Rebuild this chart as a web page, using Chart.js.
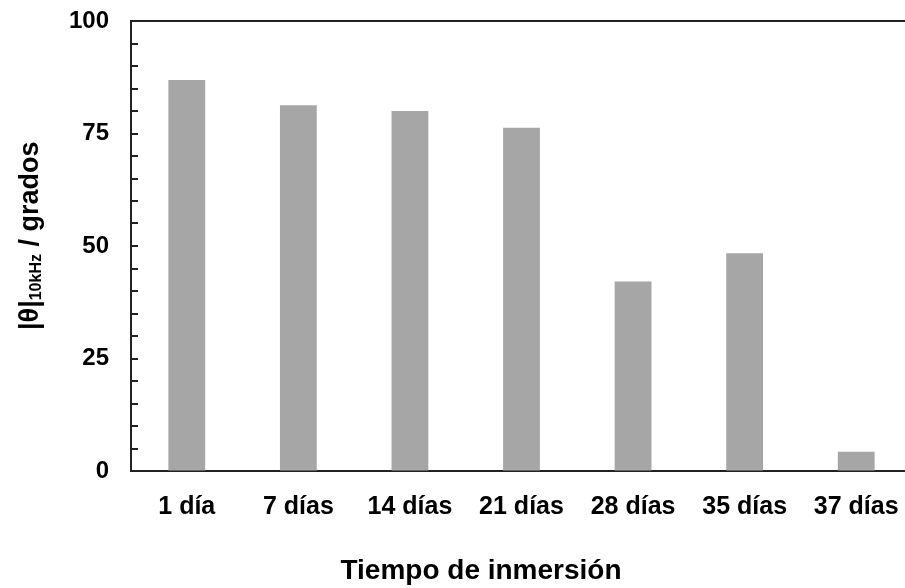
<!DOCTYPE html>
<html>
<head>
<meta charset="utf-8">
<script src="https://cdn.jsdelivr.net/npm/chart.js@4/dist/chart.umd.min.js"></script>
<style>
  html, body { margin: 0; padding: 0; background: #fff; overflow: hidden; }
  canvas { display: block; }
</style>
</head>
<body>
<canvas id="phaseChart" width="912" height="588"></canvas>
<script>
var dias = ['1 día', '7 días', '14 días', '21 días', '28 días', '35 días', '37 días'];
var fase10k = [86.9, 81.3, 80.0, 76.3, 42.1, 48.4, 4.3];
var marcasY = [0, 25, 50, 75, 100];

var FONT = "'Liberation Sans', Arial, sans-serif";

// top frame line, inward minor ticks and the two axis titles
var decor = {
  id: 'decor',
  afterDraw: function (chart) {
    var ctx = chart.ctx;
    var area = chart.chartArea;
    var y = chart.scales.y;
    ctx.save();
    ctx.strokeStyle = '#222';
    ctx.lineWidth = 2;
    ctx.beginPath();
    ctx.moveTo(area.left - 1, area.top);
    ctx.lineTo(chart.width, area.top);
    for (var v = 5; v < 100; v += 5) {
      var py = Math.round(y.getPixelForValue(v));
      ctx.moveTo(area.left, py);
      ctx.lineTo(area.left + 7, py);
    }
    ctx.stroke();

    ctx.fillStyle = '#000';
    ctx.textAlign = 'center';
    ctx.textBaseline = 'middle';
    ctx.font = 'bold 28px ' + FONT;
    ctx.fillText('Tiempo de inmersión', 481, 571);

    // |θ|10kHz / grados, rotated, with subscript
    ctx.translate(38, 330);
    ctx.rotate(-Math.PI / 2);
    ctx.textAlign = 'left';
    ctx.textBaseline = 'alphabetic';
    var x = 0;
    ctx.font = 'bold 27px ' + FONT;
    ctx.fillText('|θ|', x, 0);
    x += ctx.measureText('|θ|').width;
    ctx.font = 'bold 16px ' + FONT;
    ctx.fillText('10kHz', x, 3);
    x += ctx.measureText('10kHz').width;
    ctx.font = 'bold 27px ' + FONT;
    ctx.fillText(' / grados', x, 0);
    ctx.restore();
  }
};

new Chart(document.getElementById('phaseChart'), {
  type: 'bar',
  data: {
    labels: dias,
    datasets: [{
      data: fase10k,
      backgroundColor: '#a6a6a6',
      borderWidth: 0,
      barPercentage: 0.33,
      categoryPercentage: 1
    }]
  },
  options: {
    responsive: false,
    animation: false,
    devicePixelRatio: 1,
    layout: { padding: { top: 21, left: 0, right: 0, bottom: 0 } },
    plugins: { legend: { display: false }, tooltip: { enabled: false } },
    scales: {
      x: {
        afterFit: function (s) { s.height = 117; s.paddingLeft = 0; s.paddingRight = 0; },
        grid: { display: false, drawTicks: false },
        border: { display: true, color: '#222', width: 2 },
        ticks: {
          color: '#000',
          padding: 21,
          maxRotation: 0,
          autoSkip: false,
          font: { family: FONT, size: 25, weight: 'bold' }
        }
      },
      y: {
        min: 0,
        max: 100,
        afterFit: function (s) { s.width = 131; s.paddingTop = 0; s.paddingBottom = 0; },
        grid: { drawOnChartArea: false, drawTicks: false },
        border: { display: true, color: '#222', width: 2 },
        ticks: {
          stepSize: 5,
          autoSkip: false,
          padding: 22,
          color: '#000',
          font: { family: FONT, size: 24, weight: 'bold' },
          callback: function (v) { return marcasY.indexOf(v) >= 0 ? String(v) : ''; }
        }
      }
    }
  },
  plugins: [decor]
});
</script>
</body>
</html>
